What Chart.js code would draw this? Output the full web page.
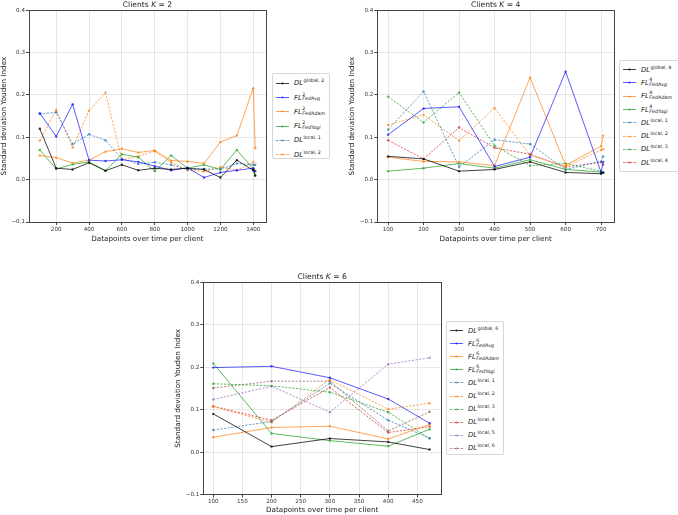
<!DOCTYPE html>
<html>
<head>
<meta charset="utf-8">
<script src="https://cdn.jsdelivr.net/npm/chart.js@4/dist/chart.umd.min.js"></script>
<style>
	html, body { margin: 0; padding: 0; background: #fff; }
	body { width: 678px; height: 515px; position: relative; overflow: hidden; font-family: "DejaVu Sans", sans-serif; }
	canvas { position: absolute; }
	.leg { position: absolute; border: 1px solid #d8d8d8; border-radius: 2px; background: #fff; box-sizing: border-box; padding-top: 2px; }
	.row { display: flex; align-items: center; color: #222; font-size: 6.8px; white-space: nowrap; }
	.row svg { margin: 0 5px 0 3px; flex: none; }
	.ss { display: inline-flex; flex-direction: column; font-size: 4.8px; line-height: 4.8px; margin-left: 0.5px; vertical-align: middle; }
	.sp { font-style: normal; }
	.sb { font-style: italic; }
	.sup1 { font-size: 4.8px; position: relative; top: -3px; margin-left: 0.5px; }
</style>
</head>
<body>
<canvas id="chartK2" width="270" height="243" style="left:0px;top:0px"></canvas>
<canvas id="chartK4" width="270" height="243" style="left:348px;top:0px"></canvas>
<canvas id="chartK6" width="271" height="242" style="left:174px;top:272px"></canvas>
<div id="legK2" class="leg" style="left:272px;top:73px;width:58px;height:86px"></div>
<div id="legK4" class="leg" style="left:619px;top:60px;width:62px;height:112px"></div>
<div id="legK6" class="leg" style="left:446px;top:321px;width:58px;height:134px"></div>
<script>
// x positions (datapoints per client) and tick labels
const xK2 = [100, 200, 300, 400, 500, 600, 700, 800, 900, 1000, 1100, 1200, 1300, 1400, 1412];
const xK4 = [100, 200, 300, 400, 500, 600, 700, 706];
const xK6 = [100, 200, 300, 400, 471];
const xTicksK2 = [200, 400, 600, 800, 1000, 1200, 1400];
const xTicksK4 = [100, 200, 300, 400, 500, 600, 700];
const xTicksK6 = [100, 150, 200, 250, 300, 350, 400, 450];
const yTicks = [-0.1, 0.0, 0.1, 0.2, 0.3, 0.4];

// K = 2
const globalK2 = [0.120, 0.027, 0.024, 0.040, 0.021, 0.035, 0.022, 0.027, 0.024, 0.027, 0.024, 0.005, 0.046, 0.022, 0.009];
const fedAvgK2 = [0.157, 0.102, 0.178, 0.046, 0.044, 0.047, 0.042, 0.032, 0.022, 0.028, 0.005, 0.017, 0.022, 0.027, 0.020];
const fedAdamK2 = [0.057, 0.052, 0.039, 0.046, 0.066, 0.073, 0.064, 0.069, 0.045, 0.043, 0.038, 0.089, 0.104, 0.216, 0.074];
const fedYogiK2 = [0.070, 0.025, 0.036, 0.042, 0.021, 0.060, 0.053, 0.020, 0.057, 0.027, 0.035, 0.024, 0.070, 0.025, 0.011];
const local1K2 = [0.155, 0.159, 0.084, 0.107, 0.093, 0.049, 0.037, 0.041, 0.035, 0.024, 0.025, 0.025, 0.038, 0.035, 0.035];
const local2K2 = [0.092, 0.165, 0.076, 0.163, 0.205, 0.047, 0.055, 0.067, 0.041, 0.022, 0.019, 0.030, 0.022, 0.042, 0.020];

// K = 4
const globalK4 = [0.055, 0.049, 0.020, 0.024, 0.042, 0.017, 0.014, 0.017];
const fedAvgK4 = [0.106, 0.168, 0.172, 0.031, 0.053, 0.255, 0.017, 0.042];
const fedAdamK4 = [0.053, 0.043, 0.042, 0.033, 0.241, 0.034, 0.079, 0.104];
const fedYogiK4 = [0.020, 0.027, 0.038, 0.027, 0.047, 0.024, 0.018, 0.016];
const local1K4 = [0.118, 0.208, 0.030, 0.094, 0.084, 0.024, 0.043, 0.055];
const local2K4 = [0.129, 0.153, 0.092, 0.169, 0.057, 0.031, 0.070, 0.072];
const local3K4 = [0.196, 0.135, 0.206, 0.080, 0.033, 0.038, 0.020, 0.016];
const local4K4 = [0.093, 0.049, 0.123, 0.075, 0.060, 0.030, 0.041, 0.035];

// K = 6
const globalK6 = [0.090, 0.013, 0.032, 0.024, 0.006];
const fedAvgK6 = [0.199, 0.202, 0.175, 0.125, 0.068];
const fedAdamK6 = [0.035, 0.058, 0.061, 0.031, 0.065];
const fedYogiK6 = [0.209, 0.044, 0.027, 0.014, 0.054];
const local1K6 = [0.052, 0.072, 0.162, 0.075, 0.033];
const local2K6 = [0.107, 0.070, 0.171, 0.101, 0.115];
const local3K6 = [0.161, 0.156, 0.141, 0.094, 0.032];
const local4K6 = [0.108, 0.075, 0.152, 0.046, 0.060];
const local5K6 = [0.124, 0.155, 0.094, 0.207, 0.222];
const local6K6 = [0.151, 0.167, 0.167, 0.050, 0.095];

const FONT = "'DejaVu Sans', sans-serif";
const colourMap = {
	black: "rgba(0,0,0,0.75)",
	blue: "rgba(0,0,255,0.65)",
	orange: "rgba(255,127,14,0.7)",
	green: "rgba(44,160,44,0.75)",
	tblue: "rgba(31,119,180,0.7)",
	red: "rgba(214,39,40,0.7)",
	purple: "rgba(148,103,189,0.7)",
	brown: "rgba(140,86,75,0.7)",
};

// box round the plot area (matplotlib spines) + title with italic K
const framePlugin = {
	id: "frame",
	afterDraw(chart, args, opts) {
		const a = chart.chartArea;
		const c = chart.ctx;
		c.save();
		c.strokeStyle = "#444";
		c.lineWidth = 1;
		c.strokeRect(Math.round(a.left) + 0.5, Math.round(a.top) + 0.5, Math.round(a.right - a.left), Math.round(a.bottom - a.top));
		// title
		const parts = [["Clients ", "normal"], ["K", "italic"], [" = " + opts.k, "normal"]];
		c.fillStyle = "#222";
		c.textBaseline = "alphabetic";
		let total = 0;
		parts.forEach(([t, st]) => { c.font = st + " 7.6px " + FONT; total += c.measureText(t).width; });
		let x = (a.left + a.right) / 2 - total / 2;
		parts.forEach(([t, st]) => {
			c.font = st + " 7.6px " + FONT;
			c.fillText(t, x, a.top - 3);
			x += c.measureText(t).width;
		});
		c.restore();
	},
};

function series(label, xs, ys, colour, dashed) {
	return { label, xs, ys, colour, dashed };
}

function makeChart(id, k, list, xTicks, xMin, xMax, yWidth, xHeight) {
	const datasets = list.map((s) => ({
		label: s.label.join(" "),
		data: s.xs.map((x, i) => ({ x, y: s.ys[i] })),
		borderColor: colourMap[s.colour],
		backgroundColor: colourMap[s.colour],
		borderWidth: 1,
		borderDash: s.dashed ? [2.2, 1.4] : [],
		pointRadius: 1.2,
		pointBorderWidth: 0,
		tension: 0,
	}));
	return new Chart(document.getElementById(id), {
		type: "line",
		data: { datasets },
		plugins: [framePlugin],
		options: {
			responsive: false,
			animation: false,
			layout: { padding: { left: 0, right: 2, top: 10.2, bottom: 0 } },
			plugins: {
				legend: { display: false },
				tooltip: { enabled: false },
				title: { display: false },
				frame: { k },
			},
			scales: {
				x: {
					type: "linear",
					min: xMin,
					max: xMax,
					afterBuildTicks: (axis) => { axis.ticks = xTicks.map((v) => ({ value: v })); },
					afterFit: (axis) => { axis.height = xHeight; },
					grid: { color: "rgba(0,0,0,0.09)", tickColor: "#444", tickLength: 3 },
					border: { display: false },
					ticks: { color: "#333", font: { family: FONT, size: 5.6 }, padding: 1, maxRotation: 0, callback: (v) => String(v) },
					title: { display: true, text: "Datapoints over time per client", color: "#222", font: { family: FONT, size: 7.2 }, padding: 0 },
				},
				y: {
					type: "linear",
					min: -0.1,
					max: 0.4,
					afterBuildTicks: (axis) => { axis.ticks = yTicks.map((v) => ({ value: v })); },
					afterFit: (axis) => { axis.width = yWidth; },
					grid: { color: "rgba(0,0,0,0.09)", tickColor: "#444", tickLength: 3 },
					border: { display: false },
					ticks: {
						color: "#333",
						font: { family: FONT, size: 5.6 },
						padding: 1,
						callback: (v) => v.toFixed(1).replace("-", "\u2212"),
					},
					title: { display: true, text: "Standard deviation Youden Index", color: "#222", font: { family: FONT, size: 7.2 }, padding: 0 },
				},
			},
		},
	});
}

function makeLegend(id, list, rowHeight) {
	const box = document.getElementById(id);
	list.forEach((s) => {
		const row = document.createElement("div");
		row.className = "row";
		row.style.height = rowHeight + "px";
		const c = colourMap[s.colour];
		const dash = s.dashed ? 'stroke-dasharray="2.2,1.4"' : "";
		const [base, sup, sub] = s.label;
		let text = "<i>" + base + "</i>";
		if (sub) {
			text += '<span class="ss"><span class="sp">' + sup + '</span><span class="sb">' + sub + "</span></span>";
		} else {
			text += '<span class="sup1">' + sup + "</span>";
		}
		row.innerHTML = '<svg width="13" height="5"><line x1="0" y1="2.5" x2="13" y2="2.5" stroke="' + c + '" stroke-width="1" ' + dash +
			'/><circle cx="6.5" cy="2.5" r="1.1" fill="' + c + '"/></svg><span>' + text + "</span>";
		box.appendChild(row);
	});
}

const listK2 = [
	series(["DL", "global, 2"], xK2, globalK2, "black", false),
	series(["FL", "2", "FedAvg"], xK2, fedAvgK2, "blue", false),
	series(["FL", "2", "FedAdam"], xK2, fedAdamK2, "orange", false),
	series(["FL", "2", "FedYogi"], xK2, fedYogiK2, "green", false),
	series(["DL", "local, 1"], xK2, local1K2, "tblue", true),
	series(["DL", "local, 2"], xK2, local2K2, "orange", true),
];
const listK4 = [
	series(["DL", "global, 4"], xK4, globalK4, "black", false),
	series(["FL", "4", "FedAvg"], xK4, fedAvgK4, "blue", false),
	series(["FL", "4", "FedAdam"], xK4, fedAdamK4, "orange", false),
	series(["FL", "4", "FedYogi"], xK4, fedYogiK4, "green", false),
	series(["DL", "local, 1"], xK4, local1K4, "tblue", true),
	series(["DL", "local, 2"], xK4, local2K4, "orange", true),
	series(["DL", "local, 3"], xK4, local3K4, "green", true),
	series(["DL", "local, 4"], xK4, local4K4, "red", true),
];
const listK6 = [
	series(["DL", "global, 6"], xK6, globalK6, "black", false),
	series(["FL", "6", "FedAvg"], xK6, fedAvgK6, "blue", false),
	series(["FL", "6", "FedAdam"], xK6, fedAdamK6, "orange", false),
	series(["FL", "6", "FedYogi"], xK6, fedYogiK6, "green", false),
	series(["DL", "local, 1"], xK6, local1K6, "tblue", true),
	series(["DL", "local, 2"], xK6, local2K6, "orange", true),
	series(["DL", "local, 3"], xK6, local3K6, "green", true),
	series(["DL", "local, 4"], xK6, local4K6, "red", true),
	series(["DL", "local, 5"], xK6, local5K6, "purple", true),
	series(["DL", "local, 6"], xK6, local6K6, "brown", true),
];

makeChart("chartK2", 2, listK2, xTicksK2, 34.4, 1477.6, 29, 21);
makeChart("chartK4", 4, listK4, xTicksK4, 69.7, 736.3, 29.3, 21);
makeChart("chartK6", 6, listK6, xTicksK6, 83, 490.5, 29.3, 19.4);
makeLegend("legK2", listK2, 14.3);
makeLegend("legK4", listK4, 13.3);
makeLegend("legK6", listK6, 13.1);
</script>
</body>
</html>
